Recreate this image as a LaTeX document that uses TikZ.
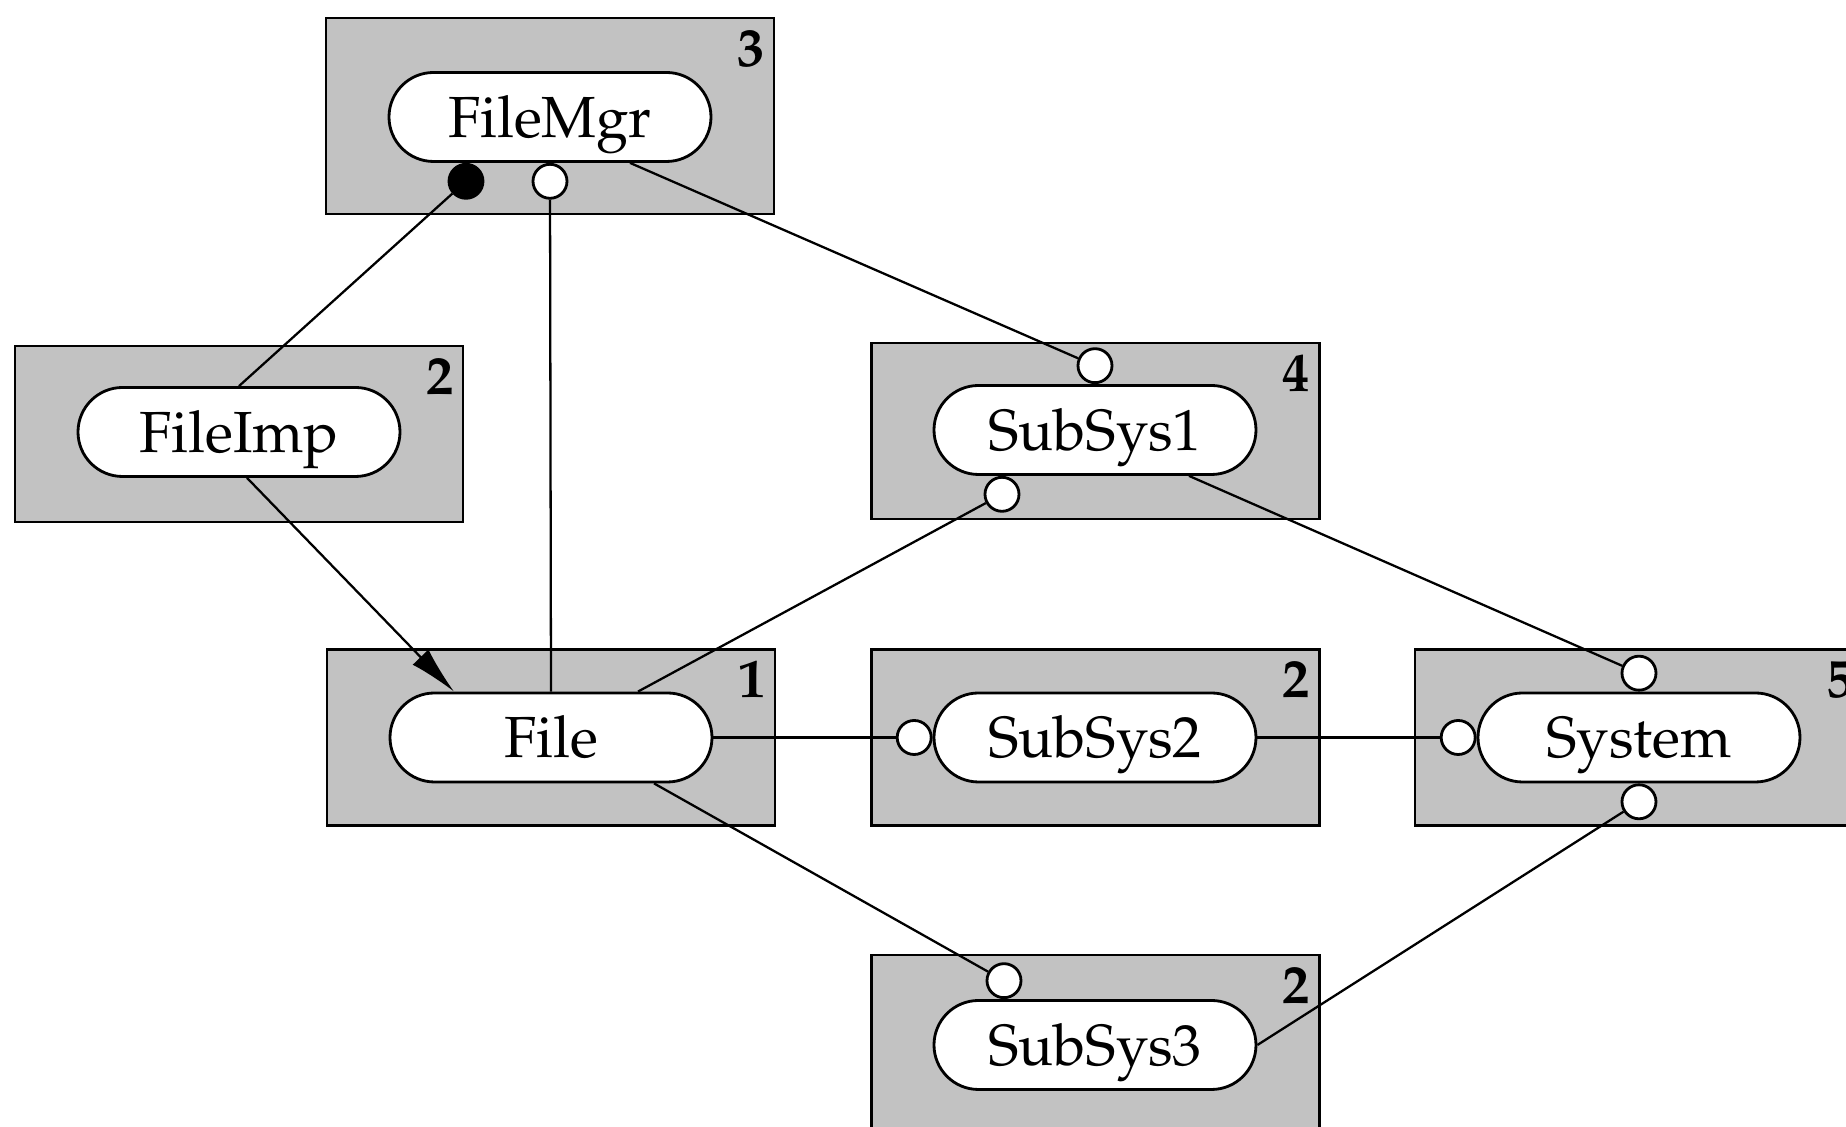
\documentclass[tikz,border=0pt]{standalone}
\usepackage[T1]{fontenc}
\usepackage{mathpazo}
\usetikzlibrary{arrows.meta,shapes.misc}

\begin{document}
\begin{tikzpicture}[
  font=\fontsize{16.5}{20}\selectfont,
  compbox/.style={draw, line width=0.6pt, fill=black!24, minimum width=4.48cm, minimum height=1.76cm, inner sep=0pt},
  unit/.style={rounded rectangle, draw, thick, fill=white, minimum width=3.22cm, minimum height=0.89cm, inner sep=0pt, text height=15.4pt, text depth=4pt},
  count/.style={anchor=north east, inner sep=0pt, font=\fontsize{15.5}{18}\selectfont\bfseries},
  port/.style={circle, draw, thick, fill=white, minimum size=0.34cm, inner sep=0pt},
  portfull/.style={port, fill=black},
  link/.style={line width=0.65pt},
  uses/.style={link, -{Latex[length=0.48cm,width=0.22cm]}}
]
\useasboundingbox (0,0) rectangle (18.46,-11.27);

% components
\node[compbox, minimum height=1.96cm] (mgrbox) at (5.50,-1.16) {};
\node[unit] (mgr) at (5.50,-1.17) {FileMgr};
\node[count] at ([xshift=-0.1cm,yshift=-0.12cm]mgrbox.north east) {3};

\node[compbox] (impbox) at (2.39,-4.34) {};
\node[unit] (imp) at (2.39,-4.32) {FileImp};
\node[count] at ([xshift=-0.1cm,yshift=-0.12cm]impbox.north east) {2};

\node[compbox] (filebox) at (5.51,-7.375) {};
\node[unit] (file) at (5.51,-7.375) {File};
\node[count] at ([xshift=-0.1cm,yshift=-0.12cm]filebox.north east) {1};

\node[compbox] (s1box) at (10.955,-4.31) {};
\node[unit] (s1) at (10.95,-4.30) {SubSys1};
\node[count] at ([xshift=-0.1cm,yshift=-0.12cm]s1box.north east) {4};

\node[compbox] (s2box) at (10.955,-7.375) {};
\node[unit] (s2) at (10.95,-7.375) {SubSys2};
\node[count] at ([xshift=-0.1cm,yshift=-0.12cm]s2box.north east) {2};

\node[compbox] (sysbox) at (16.39,-7.375) {};
\node[unit] (sys) at (16.39,-7.375) {System};
\node[count] at ([xshift=-0.1cm,yshift=-0.12cm]sysbox.north east) {5};

\node[compbox] (s3box) at (10.955,-10.43) {};
\node[unit] (s3) at (10.95,-10.45) {SubSys3};
\node[count] at ([xshift=-0.1cm,yshift=-0.12cm]s3box.north east) {2};

% ports
\node[portfull, anchor=north] (mgrA) at ([xshift=-0.84cm]mgr.south) {};
\node[port, anchor=north] (mgrB) at (mgr.south) {};
\node[port, anchor=south] (s1top) at (s1.north) {};
\node[port, anchor=north] (s1bot) at ([xshift=-0.93cm]s1.south) {};
\node[port, anchor=east] (s2left) at (s2.west) {};
\node[port, anchor=south] (systop) at (sys.north) {};
\node[port, anchor=east] (sysleft) at (sys.west) {};
\node[port, anchor=north] (sysbot) at (sys.south) {};
\node[port, anchor=south] (s3top) at ([xshift=-0.91cm]s3.north) {};

% connectors
\draw[link] (imp.north) -- (mgrA);
\draw[uses] ([xshift=0.08cm]imp.south) -- ([xshift=-0.97cm]file.north);
\draw[link] (mgrB) -- (file.north);
\draw[link] ([xshift=0.8cm]mgr.south) -- (s1top);
\draw[link] ([xshift=0.87cm]file.north) -- (s1bot);
\draw[link] ([xshift=0.94cm]s1.south) -- (systop);
\draw[link] (file.east) -- (s2left);
\draw[link] (s2.east) -- (sysleft);
\draw[link] ([xshift=1.03cm]file.south) -- (s3top);
\draw[link] (s3.east) -- (sysbot);
\end{tikzpicture}
\end{document}
